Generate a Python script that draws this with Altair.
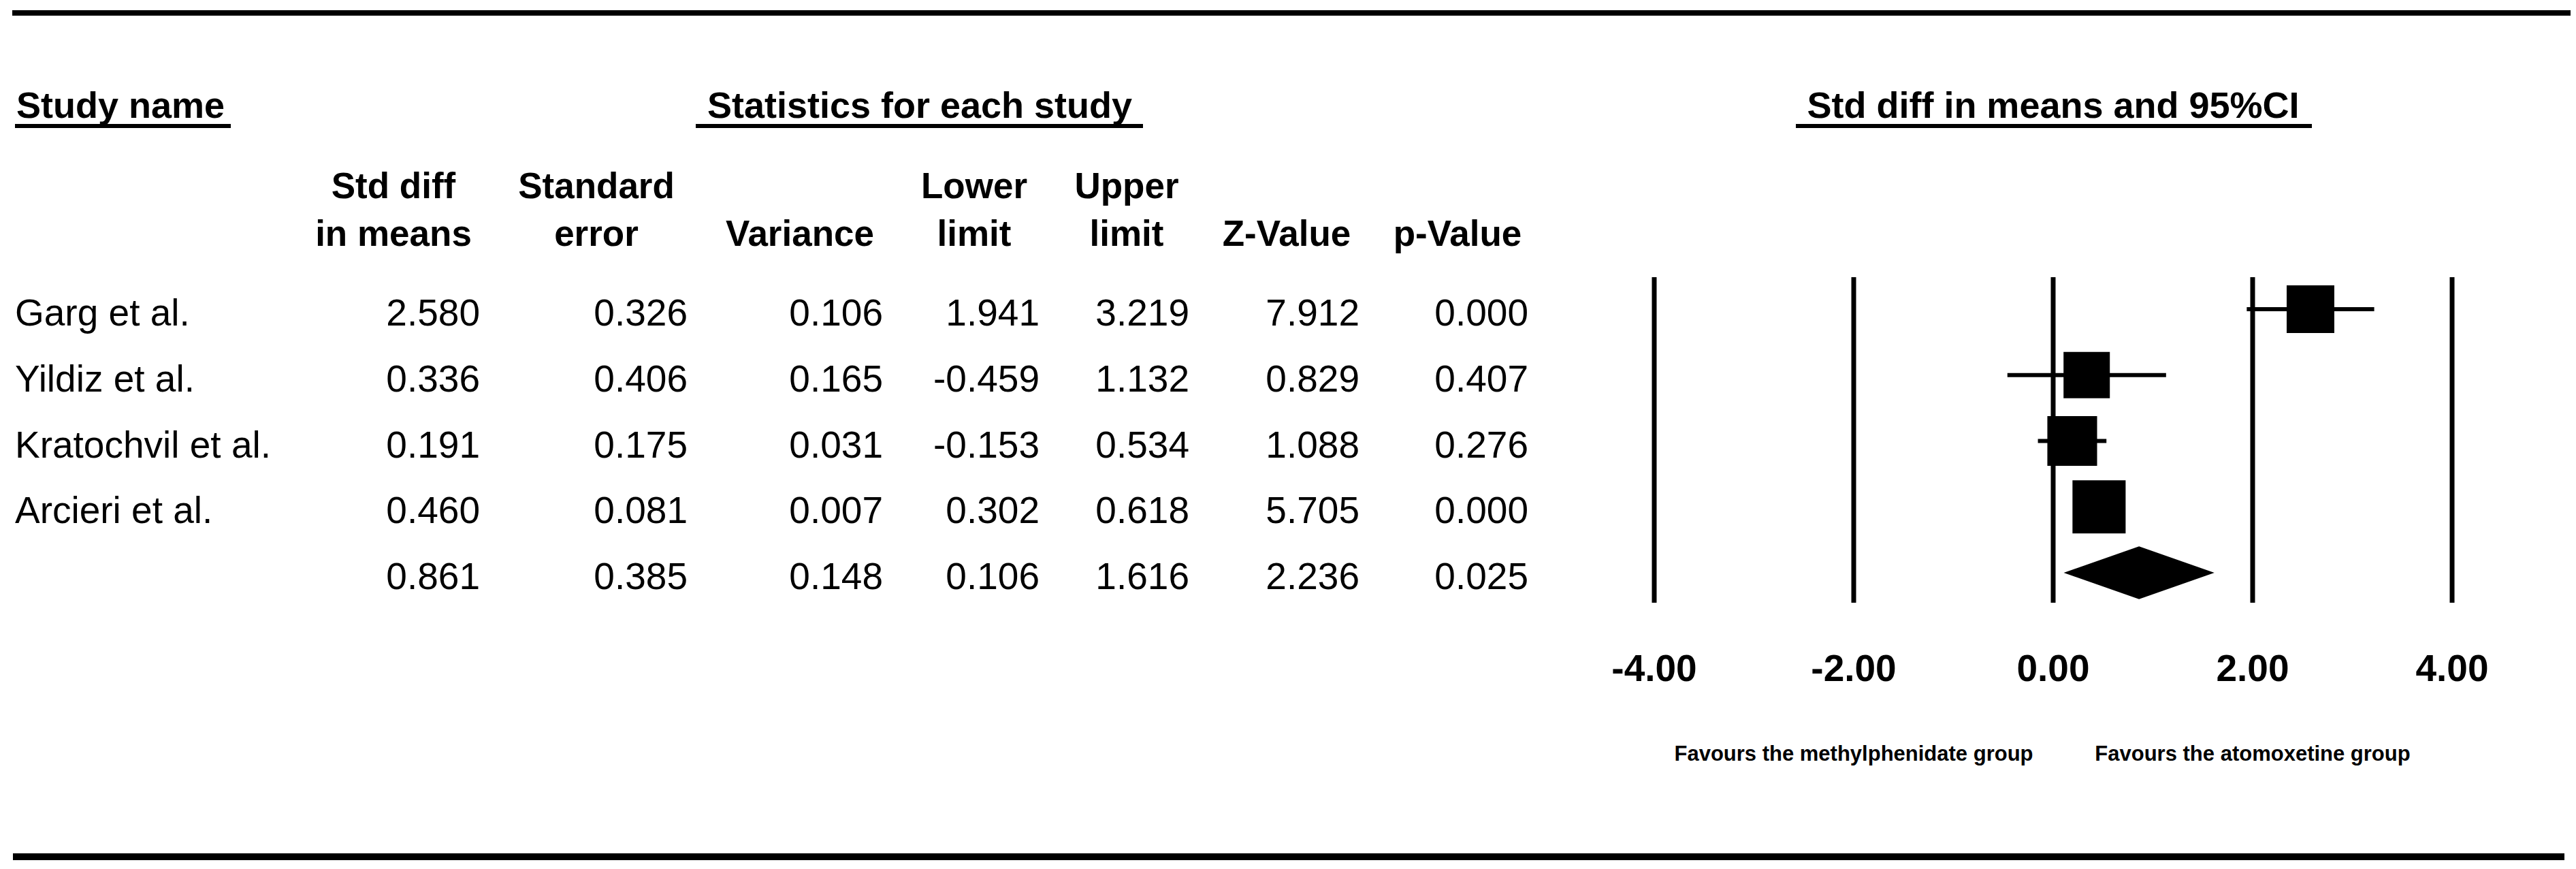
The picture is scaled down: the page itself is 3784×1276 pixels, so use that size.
import altair as alt
import pandas as pd

# ---------------- data ----------------
studies = ["Garg et al.", "Yildiz et al.", "Kratochvil et al.", "Arcieri et al.", ""]
std_diff = ["2.580", "0.336", "0.191", "0.460", "0.861"]
std_err = ["0.326", "0.406", "0.175", "0.081", "0.385"]
variance = ["0.106", "0.165", "0.031", "0.007", "0.148"]
lower = ["1.941", "-0.459", "-0.153", "0.302", "0.106"]
upper = ["3.219", "1.132", "0.534", "0.618", "1.616"]
z_value = ["7.912", "0.829", "1.088", "5.705", "2.236"]
p_value = ["0.000", "0.407", "0.276", "0.000", "0.025"]
# relative weights (%) estimated from the square sizes
rel_weight = [23.4, 22.1, 25.5, 29.1]

tick_values = [-4, -2, 0, 2, 4]
tick_labels = ["-4.00", "-2.00", "0.00", "2.00", "4.00"]
favour_pos = [-2, 2]
favour_labels = ["Favours the methylphenidate group", "Favours the atomoxetine group"]

col_headers_1 = ["Std diff", "Standard", "", "Lower", "Upper", "", ""]
col_headers_2 = ["in means", "error", "Variance", "limit", "limit", "Z-Value", "p-Value"]

# ---------------- tables ----------------
n = len(studies)
table = pd.DataFrame({
    "row": list(range(n)),
    "name": studies,
    "c1": std_diff, "c2": std_err, "c3": variance, "c4": lower,
    "c5": upper, "c6": z_value, "c7": p_value,
})
forest = pd.DataFrame({
    "row": list(range(n - 1)),
    "est": [float(v) for v in std_diff[:-1]],
    "lo": [float(v) for v in lower[:-1]],
    "hi": [float(v) for v in upper[:-1]],
    "w": rel_weight,
})
DIAMOND_HALF = 0.40  # half height of the summary diamond in row units
s_row = n - 1
diamond = pd.DataFrame({
    "x": [float(lower[-1]), float(std_diff[-1]), float(upper[-1])],
    "y": [s_row, s_row - DIAMOND_HALF, s_row],
    "y2": [s_row, s_row + DIAMOND_HALF, s_row],
})
ticks = pd.DataFrame({"t": tick_values, "lab": tick_labels})
favours = pd.DataFrame({"p": favour_pos, "lab": favour_labels})
one = pd.DataFrame({"k": [0]})
zero = pd.DataFrame({"v": [0]})

FONT = "Liberation Sans"
xs = alt.Scale(domain=[-4, 4], range=[2422, 3594], nice=False, zero=False)
ys = alt.Scale(domain=[0, 4], range=[446, 833], nice=False, zero=False)


def hline(x1, x2, y, w):
    return alt.Chart(one).mark_rule(color="black", strokeWidth=w, strokeCap="butt").encode(
        x=alt.value(x1), x2=alt.value(x2), y=alt.value(y))


def label(txt, x, y, size, bold=True, align="center"):
    return alt.Chart(one).mark_text(
        text=txt, font=FONT, fontSize=size, fontWeight="bold" if bold else "normal",
        align=align, baseline="alphabetic", color="black").encode(
        x=alt.value(x), y=alt.value(y))


layers = []
# frame rules
layers.append(hline(10, 3768, 11, 8))
layers.append(hline(11, 3759, 1250, 10))
# title underlines
layers.append(hline(14, 331, 177, 6))
layers.append(hline(1014, 1671, 177, 6))
layers.append(hline(2630, 3388, 177, 6))

# titles
layers.append(label("Study name", 16, 165, 54, align="left"))
layers.append(label("Statistics for each study", 1343, 165, 54))
layers.append(alt.Chart(zero).mark_text(
    text="Std diff in means and 95%CI", font=FONT, fontSize=54, fontWeight="bold",
    align="center", baseline="alphabetic", color="black").encode(
    x=alt.X("v:Q", scale=xs, axis=None), y=alt.value(165)))

# column headers
head_centers = [570, 868, 1167, 1423, 1647, 1882, 2133]
for h1, h2, cx in zip(col_headers_1, col_headers_2, head_centers):
    if h1:
        layers.append(label(h1, cx, 283, 53))
    layers.append(label(h2, cx, 353, 53))

# table body
layers.append(alt.Chart(table).mark_text(
    font=FONT, fontSize=55, align="left", baseline="alphabetic", dy=24, color="black").encode(
    x=alt.value(14), y=alt.Y("row:Q", scale=ys, axis=None), text="name:N"))
right_edges = [697, 1002, 1289, 1519, 1739, 1989, 2237]
for i, edge in enumerate(right_edges):
    layers.append(alt.Chart(table).mark_text(
        font=FONT, fontSize=55, align="right", baseline="alphabetic", dy=24, color="black").encode(
        x=alt.value(edge), y=alt.Y("row:Q", scale=ys, axis=None), text=f"c{i+1}:N"))

# forest plot: vertical lines
layers.append(alt.Chart(ticks).mark_rule(color="black", strokeWidth=7).encode(
    x=alt.X("t:Q", scale=xs, axis=None), y=alt.value(399), y2=alt.value(877)))
# confidence intervals
layers.append(alt.Chart(forest).mark_rule(color="black", strokeWidth=6).encode(
    x=alt.X("lo:Q", scale=xs, axis=None), x2="hi:Q",
    y=alt.Y("row:Q", scale=ys, axis=None)))
# squares
layers.append(alt.Chart(forest).mark_square(filled=True, color="black", opacity=1).encode(
    x=alt.X("est:Q", scale=xs, axis=None),
    y=alt.Y("row:Q", scale=ys, axis=None),
    size=alt.Size("w:Q", scale=alt.Scale(domain=[0, 100], range=[0, 20937]), legend=None)))
# summary diamond
layers.append(alt.Chart(diamond).mark_area(color="black", opacity=1).encode(
    x=alt.X("x:Q", scale=xs, axis=None),
    y=alt.Y("y:Q", scale=ys, axis=None), y2="y2:Q"))
# tick labels
layers.append(alt.Chart(ticks).mark_text(
    font=FONT, fontSize=55, fontWeight="bold", align="center", baseline="alphabetic",
    color="black").encode(
    x=alt.X("t:Q", scale=xs, axis=None), y=alt.value(992), text="lab:N"))
# favours labels
layers.append(alt.Chart(favours).mark_text(
    font=FONT, fontSize=31, fontWeight="bold", align="center", baseline="alphabetic",
    color="black").encode(
    x=alt.X("p:Q", scale=xs, axis=None), y=alt.value(1109), text="lab:N"))

chart = alt.layer(*layers).properties(
    width=3768, height=1260, padding=0,
    autosize=alt.AutoSizeParams(type="none"),
    background="white",
).configure_view(stroke=None)

chart.save("out.html", embed_options={"renderer": "svg", "actions": False})
